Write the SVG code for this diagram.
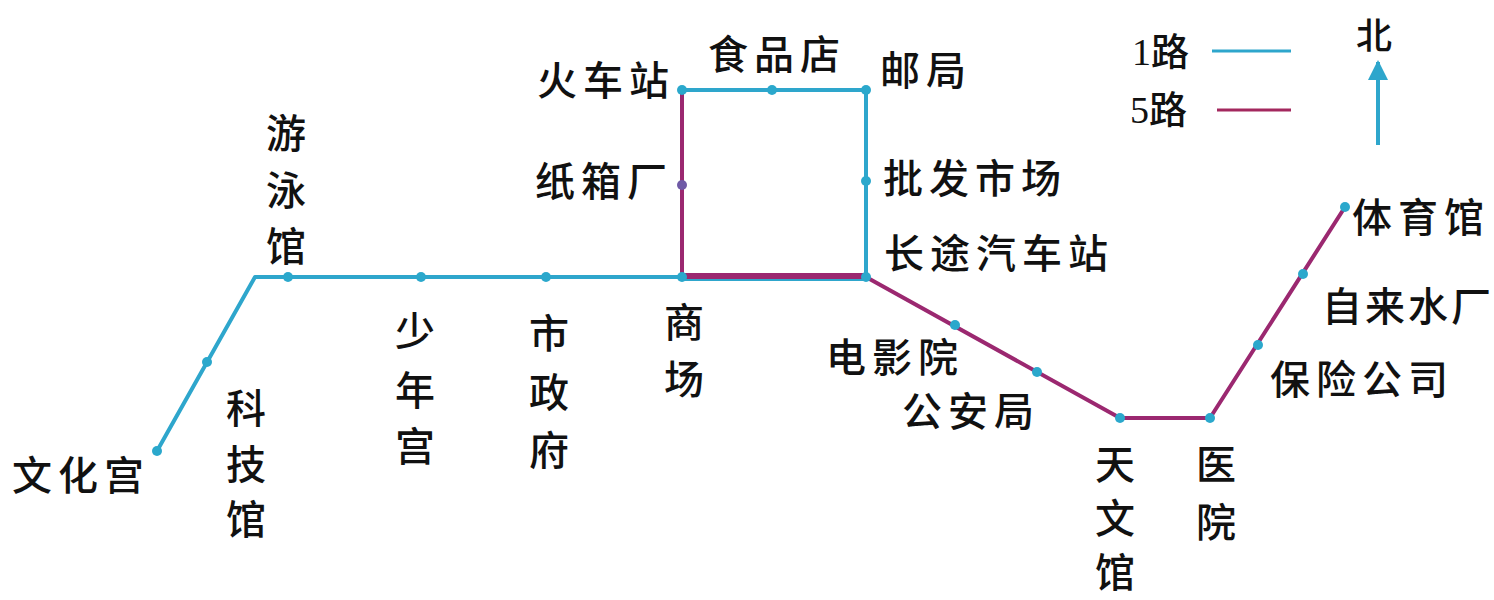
<svg xmlns="http://www.w3.org/2000/svg" width="1494" height="600" viewBox="0 0 1494 600">
<defs>
<style>
.l1{fill:none;stroke:#2ea6cc;stroke-width:4;stroke-linejoin:round;stroke-linecap:round}
.l5{fill:none;stroke:#9b2870;stroke-width:4;stroke-linejoin:round;stroke-linecap:round}
.dot{fill:#2ba8cc}
.dotp{fill:#6f5aa6}
text{font-family:"Noto Sans CJK SC","Noto Sans",sans-serif;font-size:40px;font-weight:500;fill:#111;dominant-baseline:central}
.h{letter-spacing:6px}
.v{text-anchor:middle}
.leg{font-family:"Liberation Serif","Noto Sans CJK SC",serif;font-size:38px}
</style>
<marker id="arr" viewBox="0 0 10 10" refX="9" refY="5" markerWidth="5" markerHeight="6" markerUnits="strokeWidth" orient="auto">
<path d="M0,0 L10,5 L0,10 Z" fill="#2ea6cc"/>
</marker>
</defs>
<rect width="1494" height="600" fill="#fff"/>

<g id="connectors">
<polyline class="l1" points="157,451 255,277 682,277"/>
<polyline class="l1" points="682,279 866,279 866,90 682,90"/>
<polyline class="l5" points="682,90 682,277"/>
<polyline class="l5" style="stroke-width:6" points="682,276 866,276"/>
<polyline class="l5" points="866,277 1120,418 1210,418 1345,207"/>
</g>

<g id="wenhuagong"><circle class="dot" cx="157" cy="451" r="5"/><text class="h" x="12" y="473">文化宫</text></g>
<g id="kejiguan"><circle class="dot" cx="207" cy="362" r="5"/><text class="v" x="246"><tspan x="246" y="406">科</tspan><tspan x="246" y="462">技</tspan><tspan x="246" y="517">馆</tspan></text></g>
<g id="youyongguan"><circle class="dot" cx="288" cy="277" r="5"/><text class="v" x="286"><tspan x="286" y="131">游</tspan><tspan x="286" y="188">泳</tspan><tspan x="286" y="244">馆</tspan></text></g>
<g id="shaoniangong"><circle class="dot" cx="421" cy="277" r="5"/><text class="v" x="415"><tspan x="415" y="329">少</tspan><tspan x="415" y="388">年</tspan><tspan x="415" y="444">宫</tspan></text></g>
<g id="shizhengfu"><circle class="dot" cx="546" cy="277" r="5"/><text class="v" x="549"><tspan x="549" y="331">市</tspan><tspan x="549" y="390">政</tspan><tspan x="549" y="448">府</tspan></text></g>
<g id="shangchang"><circle class="dot" cx="682" cy="277" r="5"/><text class="v" x="684"><tspan x="684" y="320">商</tspan><tspan x="684" y="377">场</tspan></text></g>
<g id="huochezhan"><circle class="dot" cx="682" cy="90" r="5"/><text class="h" x="537" y="78">火车站</text></g>
<g id="shipindian"><circle class="dot" cx="772" cy="90" r="5"/><text class="h" x="708" y="52">食品店</text></g>
<g id="youju"><circle class="dot" cx="866" cy="90" r="5"/><text class="h" x="880" y="68">邮局</text></g>
<g id="zhixiangchang"><circle class="dotp" cx="682" cy="185" r="5"/><text class="h" x="535" y="179">纸箱厂</text></g>
<g id="pifashichang"><circle class="dot" cx="866" cy="181" r="5"/><text class="h" x="883" y="176">批发市场</text></g>
<g id="changtuqichezhan"><circle class="dot" cx="866" cy="277" r="5"/><text class="h" x="884" y="251">长途汽车站</text></g>
<g id="dianyingyuan"><circle class="dot" cx="955" cy="325" r="5"/><text class="h" x="826" y="355">电影院</text></g>
<g id="gonganju"><circle class="dot" cx="1037" cy="372" r="5"/><text class="h" x="902" y="409">公安局</text></g>
<g id="tianwenguan"><circle class="dot" cx="1120" cy="418" r="5"/><text class="v" x="1115"><tspan x="1115" y="462">天</tspan><tspan x="1115" y="516">文</tspan><tspan x="1115" y="570">馆</tspan></text></g>
<g id="yiyuan"><circle class="dot" cx="1210" cy="418" r="5"/><text class="v" x="1216"><tspan x="1216" y="462">医</tspan><tspan x="1216" y="520">院</tspan></text></g>
<g id="baoxiangongsi"><circle class="dot" cx="1258" cy="345" r="5"/><text class="h" x="1270" y="377">保险公司</text></g>
<g id="zilaishuichang"><circle class="dot" cx="1303" cy="274" r="5"/><text class="h" x="1322" y="304" style="letter-spacing:3px">自来水厂</text></g>
<g id="tiyuguan"><circle class="dot" cx="1345" cy="207" r="5"/><text class="h" x="1352" y="215">体育馆</text></g>

<g id="legend">
<text class="leg" x="1132" y="52">1路</text>
<line class="l1" x1="1212" y1="51" x2="1291" y2="51" style="stroke-width:3;stroke-linecap:butt"/>
<text class="leg" x="1130" y="110">5路</text>
<line class="l5" x1="1217" y1="110" x2="1291" y2="110" style="stroke-width:3;stroke-linecap:butt;stroke:#a3285e"/>
</g>

<g id="north">
<text class="v" x="1374" y="33" style="font-size:36px">北</text>
<line x1="1378" y1="145" x2="1378" y2="62" stroke="#2ea6cc" stroke-width="4" marker-end="url(#arr)"/>
</g>
</svg>
